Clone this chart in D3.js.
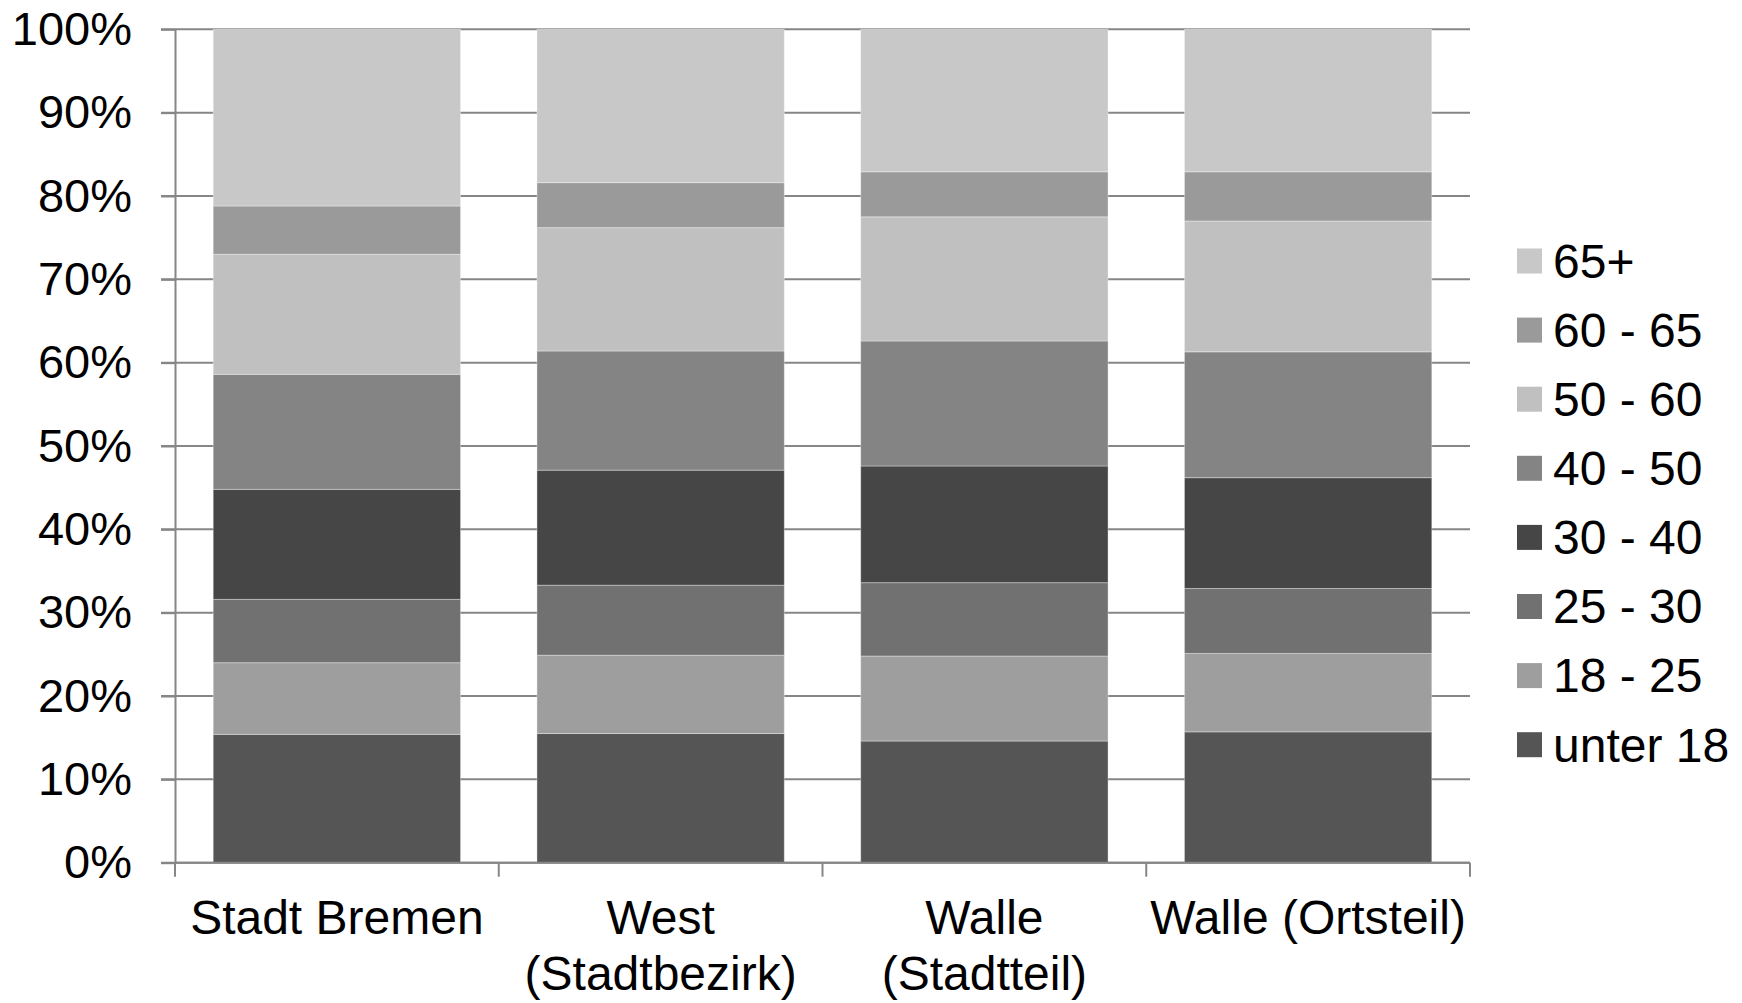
<!DOCTYPE html>
<html>
<head>
<meta charset="utf-8">
<script src="https://cdn.jsdelivr.net/npm/d3@7"></script>
<style>
  body { margin: 0; background: #fff; }
  text { font-family: "Liberation Sans", Arial, sans-serif; fill: #000; }
</style>
</head>
<body>
<svg id="chart" width="1742" height="1003"></svg>
<script>
// categories (x axis), multi-line labels
const categories = ['Stadt Bremen', 'West (Stadtbezirk)', 'Walle (Stadtteil)', 'Walle (Ortsteil)'];
const categoryLines = [['Stadt Bremen'], ['West', '(Stadtbezirk)'], ['Walle', '(Stadtteil)'], ['Walle (Ortsteil)']];

// age groups, bottom to top of stack
const ageGroups = ['unter 18', '18 - 25', '25 - 30', '30 - 40', '40 - 50', '50 - 60', '60 - 65', '65+'];

// share in percent per age group, one value per category
const unter18 = [15.4, 15.5, 14.6, 15.7];
const g18to25 = [8.6, 9.4, 10.2, 9.4];
const g25to30 = [7.6, 8.4, 8.8, 7.8];
const g30to40 = [13.2, 13.8, 14.0, 13.3];
const g40to50 = [13.8, 14.3, 15.0, 15.1];
const g50to60 = [14.4, 14.8, 14.9, 15.7];
const g60to65 = [5.8, 5.4, 5.4, 5.9];
const g65plus = [21.2, 18.4, 17.1, 17.1];

const yTicks = [0, 10, 20, 30, 40, 50, 60, 70, 80, 90, 100];

const colors = ['#555555', '#9e9e9e', '#717171', '#464646', '#848484', '#c0c0c0', '#9a9a9a', '#c8c8c8'];

const seriesValues = [unter18, g18to25, g25to30, g30to40, g40to50, g50to60, g60to65, g65plus];
const rows = categories.map((c, i) => {
  const r = { category: c };
  ageGroups.forEach((g, j) => { r[g] = seriesValues[j][i]; });
  return r;
});

const svg = d3.select('#chart');
const plotLeft = 175, plotRight = 1470, plotTop = 29.3, plotBottom = 862.7;

const x = d3.scaleBand().domain(categories).range([plotLeft, plotRight]).padding(0);
const barW = x.bandwidth() * 0.764;
const y = d3.scaleLinear().domain([0, 100]).range([plotBottom, plotTop]);

// gridlines
svg.append('g')
  .selectAll('line')
  .data(yTicks)
  .join('line')
  .attr('x1', plotLeft - 14)
  .attr('x2', plotRight)
  .attr('y1', d => y(d))
  .attr('y2', d => y(d))
  .attr('stroke', '#868686')
  .attr('stroke-width', 2);

// bars
const stack = d3.stack().keys(ageGroups)(rows);
svg.append('g')
  .selectAll('g')
  .data(stack)
  .join('g')
  .attr('fill', (d, i) => colors[i])
  .selectAll('rect')
  .data(d => d)
  .join('rect')
  .attr('x', d => x(d.data.category) + (x.bandwidth() - barW) / 2)
  .attr('width', barW)
  .attr('y', d => y(d[1]))
  .attr('height', d => y(d[0]) - y(d[1]))
  .attr('stroke', 'rgba(255,255,255,0.35)')
  .attr('stroke-width', 1);

// y axis
const yAxis = svg.append('g')
  .attr('transform', `translate(${plotLeft},0)`)
  .call(d3.axisLeft(y).tickValues(yTicks).tickFormat(d => d + '%').tickSize(14).tickSizeOuter(0).tickPadding(29));
yAxis.select('.domain').attr('stroke', '#868686').attr('stroke-width', 2);
yAxis.selectAll('.tick line').attr('stroke', '#868686').attr('stroke-width', 2);
yAxis.selectAll('.tick text')
  .attr('font-size', 47)
  .attr('font-family', '"Liberation Sans", Arial, sans-serif')
  .attr('fill', '#000');

// x axis line and boundary ticks
svg.append('line')
  .attr('x1', plotLeft).attr('x2', plotRight)
  .attr('y1', plotBottom).attr('y2', plotBottom)
  .attr('stroke', '#868686').attr('stroke-width', 2);

const bounds = categories.map(c => x(c)).concat([x(categories[categories.length - 1]) + x.step()]);
svg.append('g')
  .selectAll('line')
  .data(bounds)
  .join('line')
  .attr('x1', d => d).attr('x2', d => d)
  .attr('y1', plotBottom).attr('y2', plotBottom + 14)
  .attr('stroke', '#868686').attr('stroke-width', 2);

// category labels
svg.append('g')
  .selectAll('text')
  .data(categories)
  .join('text')
  .attr('x', d => x(d) + x.bandwidth() / 2)
  .attr('y', 934)
  .attr('text-anchor', 'middle')
  .attr('font-size', 48)
  .selectAll('tspan')
  .data((d, i) => categoryLines[i])
  .join('tspan')
  .attr('x', function () { return this.parentNode.getAttribute('x'); })
  .attr('dy', (d, i) => i === 0 ? 0 : 56)
  .text(d => d);

// legend, top item is 65+
const legendItems = ageGroups.map((g, i) => ({ name: g, color: colors[i] })).reverse();
const legend = svg.append('g')
  .selectAll('g')
  .data(legendItems)
  .join('g')
  .attr('transform', (d, i) => `translate(1517,${261 + i * 69.1})`);

legend.append('rect')
  .attr('x', 0).attr('y', -12.5)
  .attr('width', 25).attr('height', 25)
  .attr('fill', d => d.color);

legend.append('text')
  .attr('x', 36)
  .attr('y', 0)
  .attr('dy', '0.35em')
  .attr('font-size', 48)
  .text(d => d.name);
</script>
</body>
</html>
